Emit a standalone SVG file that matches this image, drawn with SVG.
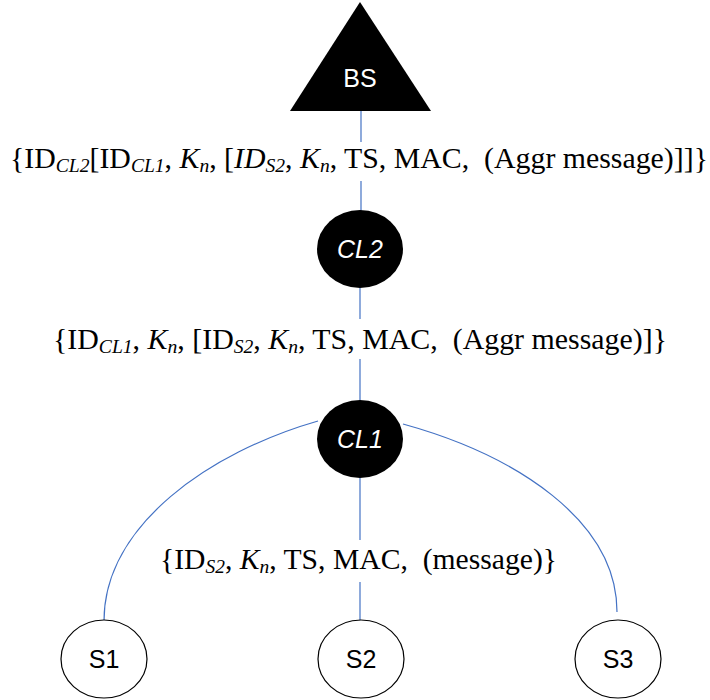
<svg xmlns="http://www.w3.org/2000/svg" width="710" height="700" viewBox="0 0 710 700">
<style>
.lbl{font-family:"Liberation Serif","Times New Roman",serif;font-size:29px;fill:#000}
.sub{font-size:19px;font-style:italic}
.it{font-style:italic}
.nt{font-family:"Liberation Sans",Arial,sans-serif;font-size:25px;text-anchor:middle}
.w{fill:#fff}
.k{fill:#000}
.conn{stroke:#4472C4;stroke-width:1.2;fill:none}
.sn{fill:#fff;stroke:#000;stroke-width:1.2}
</style>
<rect width="710" height="700" fill="#fff"/>
<g id="connectors">
<line class="conn" x1="361" y1="111" x2="361" y2="142"/>
<line class="conn" x1="361" y1="181" x2="361" y2="211"/>
<line class="conn" x1="360" y1="288" x2="360" y2="319"/>
<line class="conn" x1="360" y1="359" x2="360" y2="401"/>
<line class="conn" x1="360" y1="478" x2="360" y2="540"/>
<line class="conn" x1="360" y1="582" x2="360" y2="621"/>
<path class="conn" d="M318,421 C210,452 104,525 104,621"/>
<path class="conn" d="M403,424 C515,455 617,520 617,612"/>
</g>
<g id="BS">
<polygon points="360,2 290,111 431,111" fill="#000"/>
<text class="nt w" x="360" y="87">BS</text>
</g>
<g id="CL2">
<ellipse cx="360" cy="249" rx="43" ry="39" fill="#000"/>
<text class="nt w it" x="360" y="258">CL2</text>
</g>
<g id="CL1">
<ellipse cx="360" cy="439" rx="43" ry="39" fill="#000"/>
<text class="nt w it" x="360" y="448">CL1</text>
</g>
<g id="S1">
<ellipse class="sn" cx="104" cy="659" rx="43" ry="39"/>
<text class="nt k" x="104" y="668">S1</text>
</g>
<g id="S2">
<ellipse class="sn" cx="361" cy="659" rx="43" ry="39"/>
<text class="nt k" x="361" y="668">S2</text>
</g>
<g id="S3">
<ellipse class="sn" cx="618" cy="659" rx="43" ry="39"/>
<text class="nt k" x="618" y="668">S3</text>
</g>
<g id="labels">
<text class="lbl" x="10" y="168" textLength="698" lengthAdjust="spacingAndGlyphs">{ID<tspan class="sub" dy="4">CL2</tspan><tspan dy="-4">[ID</tspan><tspan class="sub" dy="4">CL1</tspan><tspan dy="-4">, </tspan><tspan class="it">K</tspan><tspan class="sub" dy="4">n</tspan><tspan dy="-4">, [</tspan><tspan class="it">ID</tspan><tspan class="sub" dy="4">S2</tspan><tspan dy="-4">, </tspan><tspan class="it">K</tspan><tspan class="sub" dy="4">n</tspan><tspan dy="-4">, TS, MAC, &#160;(Aggr message)]]}</tspan></text>
<text class="lbl" x="53" y="349" textLength="614" lengthAdjust="spacingAndGlyphs">{ID<tspan class="sub" dy="4">CL1</tspan><tspan dy="-4">, </tspan><tspan class="it">K</tspan><tspan class="sub" dy="4">n</tspan><tspan dy="-4">, [ID</tspan><tspan class="sub" dy="4">S2</tspan><tspan dy="-4">, </tspan><tspan class="it">K</tspan><tspan class="sub" dy="4">n</tspan><tspan dy="-4">, TS, MAC, &#160;(Aggr message)]}</tspan></text>
<text class="lbl" x="160" y="569" textLength="397" lengthAdjust="spacingAndGlyphs">{ID<tspan class="sub" dy="4">S2</tspan><tspan dy="-4">, </tspan><tspan class="it">K</tspan><tspan class="sub" dy="4">n</tspan><tspan dy="-4">, TS, MAC, &#160;(message)}</tspan></text>
</g>
</svg>
